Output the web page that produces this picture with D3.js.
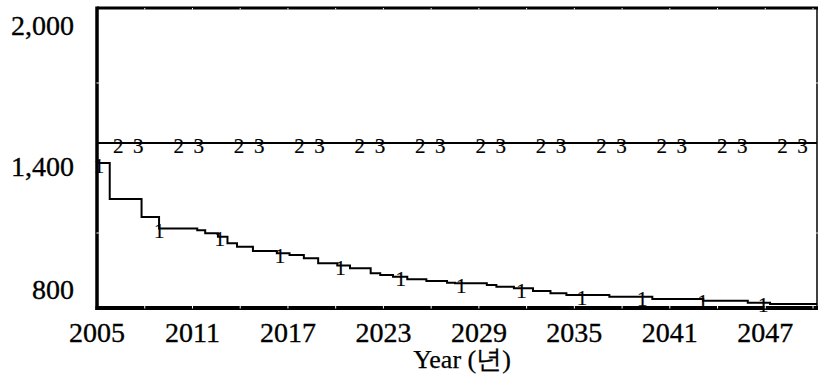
<!DOCTYPE html>
<html>
<head>
<meta charset="utf-8">
<script src="https://cdn.jsdelivr.net/npm/d3@7/dist/d3.min.js"></script>
<style>
  html, body { margin: 0; padding: 0; background: #fff; }
  svg { display: block; }
</style>
</head>
<body>
<svg id="chart" width="818" height="386" font-family="'Liberation Serif', 'DejaVu Serif', serif"></svg>
<script>
// Simulated stock over time (series 1, stepped) and two flat reference series (2 and 3)
const years1 = [2005.0, 2005.8, 2007.8, 2008.9, 2011.3, 2011.8, 2012.6, 2013.2, 2013.8, 2014.8,
                2016.3, 2017.1, 2018.0, 2018.9, 2020.1, 2020.9, 2022.2, 2022.8, 2023.6, 2024.5,
                2025.7, 2027.0, 2027.5, 2029.5, 2030.1, 2031.2, 2032.4, 2033.5, 2034.5, 2037.2,
                2039.9, 2043.1, 2045.9, 2047.3, 2050.25];
const values1 = [1380, 1236, 1164, 1118, 1111, 1099, 1085, 1059, 1045, 1028,
                 1019, 1012, 999, 979, 970, 959, 939, 932, 925, 915,
                 908, 901, 899, 892, 885, 879, 868, 859, 852, 845,
                 836, 829, 821, 816, 816];
const years2 = [2005, 2050.25];
const values2 = [1460, 1460];
const years3 = [2005, 2050.25];
const values3 = [1460, 1460];

const xTickLabels = [2005, 2011, 2017, 2023, 2029, 2035, 2041, 2047];
const xMinorTicks = [2008, 2011, 2014, 2017, 2020, 2023, 2026, 2029, 2032, 2035, 2038, 2041, 2044, 2047, 2050];
const yTickLabels = [2000, 1400, 800];
const yMinorTicks = [1700, 1100];
const xTitle = "Year (년)";

const FONT = "Liberation Serif, DejaVu Serif, serif";
const svg = d3.select("#chart");
const padL = 97, padR = 817, padT = 8, padB = 308;

const x = d3.scaleLinear().domain([2005, 2050.25]).range([padL, padR]);
const y = d3.scaleLinear().domain([800, 2000]).range([padB, padT]);

const toPts = (xs, vs) => xs.map((t, i) => [t, vs[i]]);
const s1 = toPts(years1, values1);
const s2 = toPts(years2, values2);
const s3 = toPts(years3, values3);

const line = d3.line().x(d => x(d[0])).y(d => y(d[1])).curve(d3.curveStepAfter);

// Slightly heavier glyphs, like the GDI-rendered Times of the original tool
const heavy = sel => sel.style("font-family", FONT).attr("stroke", "#000").attr("stroke-width", 0.35).attr("fill", "#000");

const plot = svg.append("g");
[s3, s2, s1].forEach(s => {
  plot.append("path")
    .attr("d", line(s))
    .attr("fill", "none")
    .attr("stroke", "#000")
    .attr("stroke-width", 2);
});

// Series number markers, spaced evenly along the time axis
const markerStep = 3.795;
function valueAt(s, t) {
  let v = s[0][1];
  for (const [tt, vv] of s) { if (tt <= t) v = vv; else break; }
  return v;
}
const markerSets = [
  { s: s1, label: "1", start: 2005.12 },
  { s: s2, label: "2", start: 2006.34 },
  { s: s3, label: "3", start: 2007.6 }
];
markerSets.forEach(m => {
  const ts = d3.range(12).map(i => m.start + i * markerStep);
  plot.selectAll(null).data(ts).enter().append("text")
    .attr("x", t => x(t))
    .attr("y", t => y(valueAt(m.s, t)) + 9.5)
    .attr("text-anchor", "middle")
    .call(heavy)
    .attr("stroke-width", 0.2)
    .style("font-size", "21px")
    .text(m.label);
});

// Frame
const frame = svg.append("g");
frame.append("line").attr("x1", padL).attr("x2", padR + 1).attr("y1", padT).attr("y2", padT)
  .attr("stroke", "#000").attr("stroke-width", 3);
frame.append("line").attr("x1", padR).attr("x2", padR).attr("y1", padT).attr("y2", padB)
  .attr("stroke", "#000").attr("stroke-width", 1.5);
frame.append("line").attr("x1", padL).attr("x2", padL).attr("y1", padT - 1.5).attr("y2", padB + 2)
  .attr("stroke", "#000").attr("stroke-width", 3.5);
frame.append("line").attr("x1", padL - 1.5).attr("x2", padR + 1).attr("y1", padB).attr("y2", padB)
  .attr("stroke", "#000").attr("stroke-width", 4);

// Small white notches marking tick positions inside the frame lines
xMinorTicks.forEach(t => {
  frame.append("line").attr("x1", x(t)).attr("x2", x(t)).attr("y1", padB - 2).attr("y2", padB + 0.5)
    .attr("stroke", "#fff").attr("stroke-width", 1);
  frame.append("line").attr("x1", x(t)).attr("x2", x(t)).attr("y1", padT).attr("y2", padT + 1.5)
    .attr("stroke", "#fff").attr("stroke-width", 1);
});
yMinorTicks.forEach(v => {
  frame.append("line").attr("x1", padL - 0.5).attr("x2", padL + 1.8).attr("y1", y(v)).attr("y2", y(v))
    .attr("stroke", "#fff").attr("stroke-width", 1);
  frame.append("line").attr("x1", padR - 0.8).attr("x2", padR + 0.8).attr("y1", y(v)).attr("y2", y(v))
    .attr("stroke", "#fff").attr("stroke-width", 1);
});

// X axis labels
svg.append("g").selectAll("text").data(xTickLabels).enter().append("text")
  .attr("x", d => x(d))
  .attr("y", 342)
  .attr("text-anchor", "middle")
  .call(heavy)
  .style("font-size", "28px")
  .text(d => d);

// Y axis labels: top label hangs below the top edge, middle below its tick, bottom above the base
const fmt = d3.format(",");
const yLabelShift = [26.5, 17.5, -9.5];
svg.append("g").selectAll("text").data(yTickLabels).enter().append("text")
  .attr("x", 74)
  .attr("y", (d, i) => y(d) + yLabelShift[i])
  .attr("text-anchor", "end")
  .call(heavy)
  .style("font-size", "28px")
  .text(d => fmt(d));

// Axis title
svg.append("text")
  .attr("x", 462)
  .attr("y", 368)
  .attr("text-anchor", "middle")
  .call(heavy)
  .attr("stroke-width", 0.25)
  .style("font-size", "26px")
  .text(xTitle);
</script>
</body>
</html>
